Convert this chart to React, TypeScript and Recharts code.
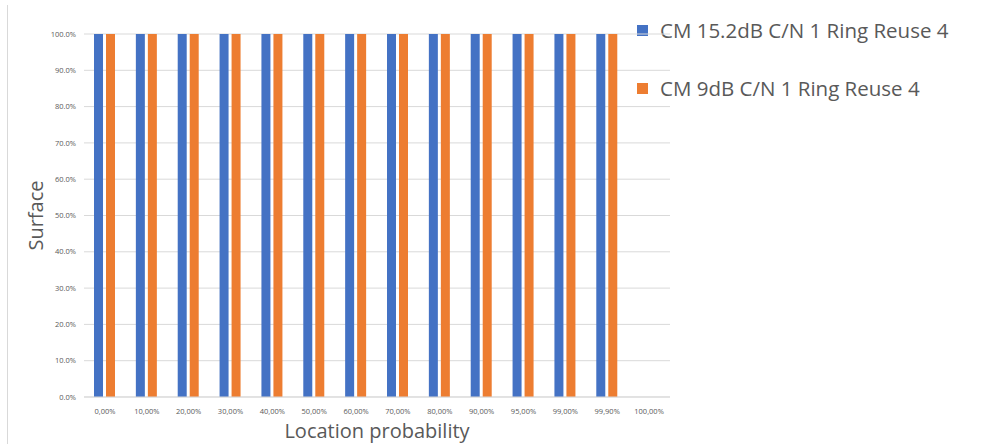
import React from 'react';
import { BarChart, Bar, XAxis, YAxis, CartesianGrid, Label } from 'recharts';

const categories = ['0,00%', '10,00%', '20,00%', '30,00%', '40,00%', '50,00%', '60,00%', '70,00%', '80,00%', '90,00%', '95,00%', '99,00%', '99,90%', '100,00%'];
const series1 = [1, 1, 1, 1, 1, 1, 1, 1, 1, 1, 1, 1, 1, null];
const series2 = [1, 1, 1, 1, 1, 1, 1, 1, 1, 1, 1, 1, 1, null];
const yTicks = [0, 0.1, 0.2, 0.3, 0.4, 0.5, 0.6, 0.7, 0.8, 0.9, 1.0];
const seriesNames = ['CM 15.2dB C/N 1 Ring Reuse 4', 'CM 9dB C/N 1 Ring Reuse 4'];
const colors = ['#4472C4', '#ED7D31'];

const data = categories.map((c, i) => ({ cat: c, s1: series1[i], s2: series2[i] }));

const FONT = '"Open Sans", sans-serif';

const YTitle = (props: any) => {
  const { viewBox } = props;
  const x = 35;
  const y = viewBox.y + viewBox.height / 2;
  return (
    <text x={x} y={y} transform={`rotate(-90, ${x}, ${y})`} textAnchor="middle" dominantBaseline="central" fontSize={20} fill="#595959" fontFamily={FONT}>
      Surface
    </text>
  );
};

export default function App() {
  return (
    <div style={{ position: 'absolute', left: 0, top: 0, width: 1001, height: 444, background: '#fff' }}>
      <div style={{ position: 'absolute', left: 7, top: 5, width: 1, height: 439, background: '#d9d9d9' }} />
      <div style={{ position: 'absolute', left: 637, top: 15, fontFamily: FONT }}>
        {seriesNames.map((name, i) => (
          <div key={i} style={{ display: 'flex', alignItems: 'center', height: 30, marginBottom: i === 0 ? 28 : 0 }}>
            <div style={{ width: 11, height: 11, background: colors[i], marginRight: 12 }} />
            <span style={{ fontSize: 20.5, color: '#595959', whiteSpace: 'nowrap' }}>{name}</span>
          </div>
        ))}
      </div>
      <div style={{ position: 'absolute', left: 0, top: 0 }}>
        <BarChart
          width={1001}
          height={444}
          data={data}
          margin={{ top: 34, right: 331, bottom: 0, left: 0 }}
          barGap={3}
          barSize={9}
        >
          <CartesianGrid vertical={false} stroke="#d9d9d9" strokeWidth={1} />
          <XAxis
            dataKey="cat"
            height={47}
            tickLine={false}
            axisLine={{ stroke: '#d9d9d9' }}
            tick={{ fontSize: 7.5, fill: '#595959', fontFamily: FONT }}
            tickMargin={6}
            interval={0}
          >
            <Label value="Location probability" position="insideBottom" offset={6} fontSize={20} fill="#595959" fontFamily={FONT} />
          </XAxis>
          <YAxis
            width={84}
            domain={[0, 1]}
            ticks={yTicks}
            tickFormatter={(v: number) => (v * 100).toFixed(1) + '%'}
            tickLine={false}
            axisLine={false}
            tickSize={0}
            tickMargin={8}
            tick={{ fontSize: 7.5, fill: '#595959', fontFamily: FONT }}
            interval={0}
          >
            <Label content={<YTitle />} />
          </YAxis>
          <Bar dataKey="s1" name={seriesNames[0]} fill={colors[0]} isAnimationActive={false} />
          <Bar dataKey="s2" name={seriesNames[1]} fill={colors[1]} isAnimationActive={false} />
        </BarChart>
      </div>
    </div>
  );
}
